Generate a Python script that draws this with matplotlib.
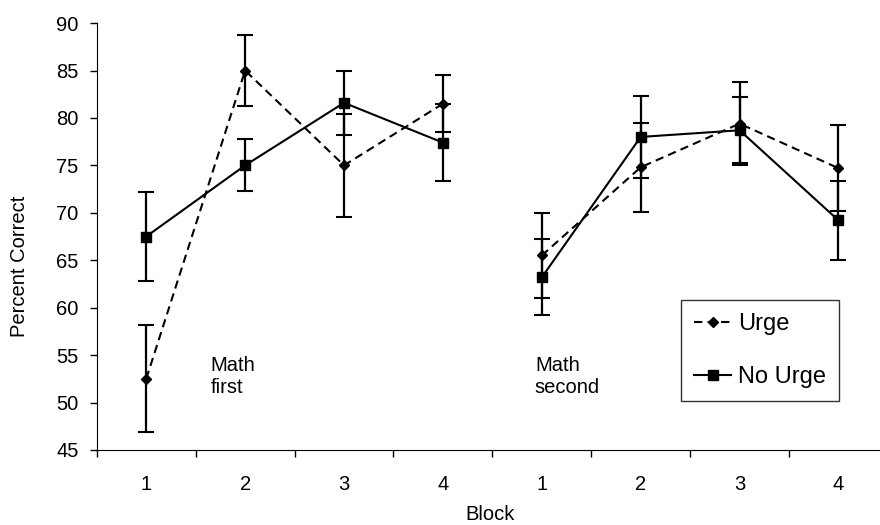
import matplotlib
matplotlib.use('Agg')
import matplotlib.pyplot as plt
from matplotlib.lines import Line2D
import numpy as np

plt.rcParams['font.family'] = ['Liberation Sans', 'DejaVu Sans']

# blocks: Math first (1-4), Math second (1-4)
block_labels = ['1', '2', '3', '4', '1', '2', '3', '4']

urge_first = [52.5, 85.0, 75.0, 81.5]
urge_first_err = [5.65, 3.7, 5.4, 3.0]
urge_second = [65.5, 74.8, 79.4, 74.7]
urge_second_err = [4.5, 4.7, 4.4, 4.55]

nourge_first = [67.5, 75.0, 81.6, 77.4]
nourge_first_err = [4.65, 2.75, 3.4, 4.1]
nourge_second = [63.2, 78.0, 78.7, 69.2]
nourge_second_err = [4.0, 4.3, 3.5, 4.2]

fig = plt.figure(figsize=(8.8, 5.25), dpi=100)
ax = fig.add_axes([0.110, 0.143, 0.899, 0.813])

x1 = np.arange(4)
x2 = np.arange(4, 8)

urge_line = dict(color='black', linestyle=(0, (4, 2.5)), linewidth=1.5, marker='D', markersize=5)
nourge_line = dict(color='black', linestyle='-', linewidth=1.5, marker='s', markersize=7.5)
err_style = dict(ecolor='black', elinewidth=1.6, capsize=5.5, capthick=1.5)

ax.errorbar(x1, urge_first, yerr=urge_first_err, **urge_line, **err_style)
ax.errorbar(x2, urge_second, yerr=urge_second_err, **urge_line, **err_style)
ax.errorbar(x1, nourge_first, yerr=nourge_first_err, **nourge_line, **err_style)
ax.errorbar(x2, nourge_second, yerr=nourge_second_err, **nourge_line, **err_style)

ax.set_xlim(-0.5, 7.5)
ax.set_ylim(45, 90)
ax.set_yticks(np.arange(45, 91, 5))

# labels at the centres, tick marks at the boundaries
ax.set_xticks(np.arange(-0.5, 8, 1))
ax.set_xticklabels([])
ax.set_xticks(np.arange(8), minor=True)
ax.set_xticklabels(block_labels, minor=True)
ax.tick_params(axis='x', which='major', direction='out', length=5, width=1)
ax.tick_params(axis='x', which='minor', length=0, pad=18, labelsize=14.5)
ax.tick_params(axis='y', direction='out', length=5, width=1, pad=8, labelsize=14.5)

ax.spines['top'].set_visible(False)
ax.spines['right'].set_visible(False)

ax.set_xlabel('Block', fontsize=14.5)
ax.set_ylabel('Percent Correct', fontsize=14.5)
ax.xaxis.set_label_coords(0.497, -0.13)
ax.yaxis.set_label_coords(-0.086, 0.43)

ax.text(0.65, 52.7, 'Math\nfirst', fontsize=14.5, va='center', ha='left', linespacing=1.2)
ax.text(3.93, 52.7, 'Math\nsecond', fontsize=14.5, va='center', ha='left', linespacing=1.2)

handles = [Line2D([], [], **urge_line), Line2D([], [], **nourge_line)]
leg = ax.legend(handles, ['Urge', 'No Urge'], loc='upper left', bbox_to_anchor=(0.738, 0.351),
                borderaxespad=0, fontsize=17, frameon=True, fancybox=False, edgecolor='black',
                handlelength=1.6, handletextpad=0.3, labelspacing=1.3, borderpad=0.55)
leg.get_frame().set_linewidth(1.0)

fig.savefig('out.png', dpi=100)
